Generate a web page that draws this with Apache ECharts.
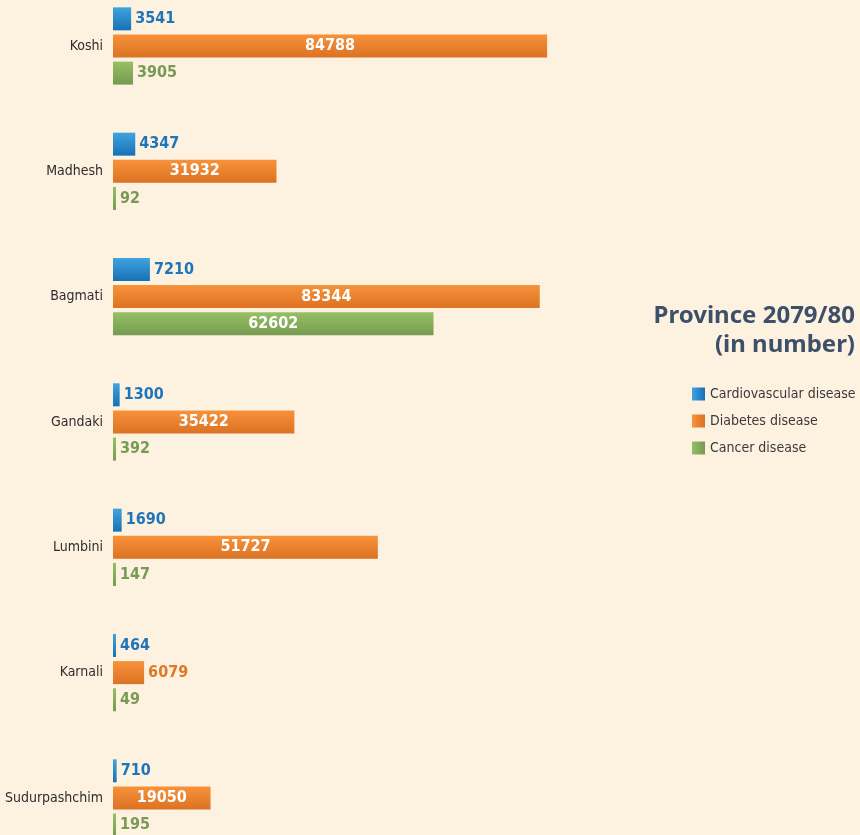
<!DOCTYPE html>
<html>
<head>
<meta charset="utf-8">
<title>Province 2079/80</title>
<script src="https://cdn.jsdelivr.net/npm/echarts@6/dist/echarts.min.js"></script>
<style>
  html, body { margin: 0; padding: 0; background: #fdf1e0; overflow: hidden; }
  #chart { width: 860px; height: 835px; }
</style>
</head>
<body>
<div id="chart"></div>
<script>
// Provinces, listed top to bottom
const provinces = ['Koshi', 'Madhesh', 'Bagmati', 'Gandaki', 'Lumbini', 'Karnali', 'Sudurpashchim'];

// Patients per province, 2079/80
const cardiovascular = [3541, 4347, 7210, 1300, 1690, 464, 710];
const diabetes = [84788, 31932, 83344, 35422, 51727, 6079, 19050];
const cancer = [3905, 92, 62602, 392, 147, 49, 195];

const seriesNames = ['Cardiovascular disease', 'Diabetes disease', 'Cancer disease'];
const titleLines = ['Province 2079/80', '(in number)'];

const NARROW = '"Liberation Sans Narrow", "DejaVu Sans Condensed", "Roboto", sans-serif';

const palette = [
  { top: '#40a4df', bottom: '#1770b6', text: '#1f75ba' },
  { top: '#f7923a', bottom: '#dc7223', text: '#e07828' },
  { top: '#95c164', bottom: '#769a50', text: '#789a54' }
];

function vGrad(p) {
  return new echarts.graphic.LinearGradient(0, 0, 0, 1, [
    { offset: 0, color: p.top }, { offset: 1, color: p.bottom }
  ]);
}
function hGrad(p) {
  return new echarts.graphic.LinearGradient(0, 0, 1, 0, [
    { offset: 0, color: p.top }, { offset: 1, color: p.bottom }
  ]);
}

// Long bars carry their value inside in white, short ones beside the bar
function toItems(values, p) {
  return values.map(v => {
    const inside = v >= 15000;
    return {
      value: v,
      label: inside
        ? { position: 'inside', color: '#ffffff' }
        : { position: 'right', distance: 4, color: p.text }
    };
  });
}

const chart = echarts.init(document.getElementById('chart'), null, { renderer: 'canvas' });

const allValues = [cardiovascular, diabetes, cancer];

chart.setOption({
  backgroundColor: '#fdf1e0',
  animation: false,
  // Each title line is its own block so both sit flush right
  title: titleLines.map((line, i) => ({
    text: line,
    right: 5,
    top: 304 + i * 29,
    padding: 0,
    textStyle: {
      fontFamily: '"Noto Sans", sans-serif',
      fontWeight: 'bold',
      fontSize: 24,
      color: '#3d5069'
    }
  })),
  legend: {
    orient: 'vertical',
    left: 692,
    top: 387,
    padding: 0,
    itemWidth: 13,
    itemHeight: 13,
    itemGap: 13,
    icon: 'rect',
    textStyle: { fontFamily: NARROW, fontSize: 14, color: '#3a3a3a' },
    data: seriesNames.map((n, i) => ({ name: n, itemStyle: { color: hGrad(palette[i]) } }))
  },
  grid: {
    left: 113, width: 512, top: -16.7, height: 877.3,
    outerBoundsMode: 'none', containLabel: false
  },
  xAxis: {
    type: 'value',
    min: 0,
    max: 100000,
    show: false
  },
  yAxis: {
    type: 'category',
    data: provinces,
    inverse: true,
    axisLine: { show: false },
    axisTick: { show: false },
    splitLine: { show: false },
    axisLabel: {
      margin: 10,
      fontFamily: NARROW,
      fontSize: 14,
      color: '#2e2e2e'
    }
  },
  series: seriesNames.map((name, i) => ({
    name,
    type: 'bar',
    barWidth: 23,
    barGap: '18%',
    barMinHeight: 3,
    itemStyle: { color: vGrad(palette[i]) },
    label: {
      show: true,
      fontFamily: NARROW,
      fontWeight: 'bold',
      fontSize: 16
    },
    data: toItems(allValues[i], palette[i])
  }))
});
</script>
</body>
</html>
